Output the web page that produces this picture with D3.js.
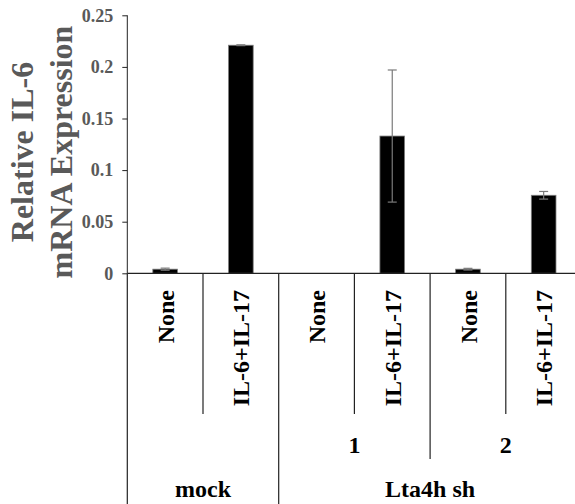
<!DOCTYPE html>
<html>
<head>
<meta charset="utf-8">
<script src="https://cdn.jsdelivr.net/npm/d3@7"></script>
<style>
  body { margin: 0; background: #fff; }
  svg { display: block; font-family: "Liberation Serif", "Times New Roman", serif; font-weight: bold; }
</style>
</head>
<body>
<div id="chart"></div>
<script>
// data
const treatments = ['None', 'IL-6+IL-17', 'None', 'IL-6+IL-17', 'None', 'IL-6+IL-17'];
const clones     = ['', '', '1', '1', '2', '2'];
const groups     = ['mock', 'mock', 'Lta4h sh', 'Lta4h sh', 'Lta4h sh', 'Lta4h sh'];
const values     = [0.004, 0.221, 0, 0.133, 0.004, 0.0756];
const errors     = [0.001, 0.0004, 0, 0.064, 0.0008, 0.0037];
const yTicks     = [0, 0.05, 0.1, 0.15, 0.2, 0.25];
const yTickLabels = ['0', '0.05', '0.1', '0.15', '0.2', '0.25'];

const width = 575, height = 504;
const plotLeft = 127.3, catW = 75.7;
const plotTop = 15.3, base = 273.3;
const tier1 = 414, tier2 = 459, tier3 = height;

const svg = d3.select('#chart').append('svg')
    .attr('width', width)
    .attr('height', height);

const idx = d3.range(values.length);
const x = d3.scaleBand().domain(idx).range([plotLeft, plotLeft + catW * idx.length]);
const y = d3.scaleLinear().domain([0, 0.25]).range([base, plotTop]);

// y axis
const yAxis = svg.append('g')
    .attr('transform', `translate(${plotLeft},0)`)
    .call(d3.axisLeft(y).tickValues(yTicks).tickSize(5).tickPadding(9)
        .tickFormat((d, i) => yTickLabels[i]));
yAxis.select('.domain').attr('stroke', '#222').attr('d', `M0,${plotTop}V${base}`);
yAxis.selectAll('.tick line').attr('stroke', '#222');
yAxis.selectAll('.tick text')
    .attr('fill', '#595959')
    .style('font-size', '18px')
    .style('font-family', '"Liberation Serif", serif')
    .style('font-weight', 'bold');

// y title
const title = svg.append('text')
    .attr('transform', `translate(33,152) rotate(-90)`)
    .attr('text-anchor', 'middle')
    .attr('fill', '#595959')
    .style('font-size', '32px');
title.append('tspan').attr('x', 0).attr('y', 0).text('Relative IL-6');
title.append('tspan').attr('x', 0).attr('y', 38.5).text('mRNA Expression');

// bars
const barW = x.bandwidth() * 0.326;
svg.append('g').selectAll('rect')
    .data(idx.filter(i => values[i] > 0))
    .join('rect')
    .attr('x', i => x(i) + (x.bandwidth() - barW) / 2)
    .attr('width', barW)
    .attr('y', i => y(values[i]))
    .attr('height', i => y(0) - y(values[i]))
    .attr('fill', '#000')
    .attr('stroke', '#7f7f7f')
    .attr('stroke-width', 0.8);

// error bars
const eg = svg.append('g').attr('stroke', '#7a7a7a').attr('stroke-width', 1.2);
idx.filter(i => values[i] > 0).forEach(i => {
  const cx = x(i) + x.bandwidth() / 2;
  const y1 = y(values[i] + errors[i]), y2 = y(values[i] - errors[i]);
  eg.append('line').attr('x1', cx).attr('x2', cx).attr('y1', y1).attr('y2', y2);
  [y1, y2].forEach(yy => eg.append('line')
      .attr('x1', cx - 4.5).attr('x2', cx + 4.5).attr('y1', yy).attr('y2', yy));
});

// category axis
const cg = svg.append('g').attr('stroke', '#222').attr('stroke-width', 1.2);
cg.append('line').attr('x1', plotLeft).attr('x2', plotLeft + catW * idx.length)
    .attr('y1', base).attr('y2', base);
cg.append('line').attr('x1', plotLeft).attr('x2', plotLeft).attr('y1', base).attr('y2', tier3);
idx.slice(1).forEach(i => {
  let bottom = tier1;
  if (groups[i] !== groups[i - 1]) bottom = tier3;
  else if (clones[i] !== clones[i - 1]) bottom = tier2;
  cg.append('line').attr('x1', x(i)).attr('x2', x(i)).attr('y1', base).attr('y2', bottom);
});

// tier 1 labels: treatment
svg.append('g').selectAll('text')
    .data(idx)
    .join('text')
    .attr('transform', i => `translate(${x(i) + x.bandwidth() / 2},290) rotate(-90)`)
    .attr('text-anchor', 'end')
    .attr('dy', '0.36em')
    .style('font-size', '24px')
    .attr('fill', '#000')
    .text(i => treatments[i]);

// spans for tiers 2 and 3
function spans(keys) {
  const out = [];
  keys.forEach((k, i) => {
    if (out.length && out[out.length - 1].key === k) out[out.length - 1].end = i;
    else out.push({ key: k, start: i, end: i });
  });
  return out;
}

svg.append('g').selectAll('text')
    .data(spans(clones).filter(s => s.key !== ''))
    .join('text')
    .attr('x', s => (x(s.start) + x(s.end) + x.bandwidth()) / 2)
    .attr('y', 452.7)
    .attr('text-anchor', 'middle')
    .style('font-size', '24px')
    .text(s => s.key);

svg.append('g').selectAll('text')
    .data(spans(groups))
    .join('text')
    .attr('x', s => (x(s.start) + x(s.end) + x.bandwidth()) / 2)
    .attr('y', 496.7)
    .attr('text-anchor', 'middle')
    .style('font-size', '24px')
    .text(s => s.key);
</script>
</body>
</html>
